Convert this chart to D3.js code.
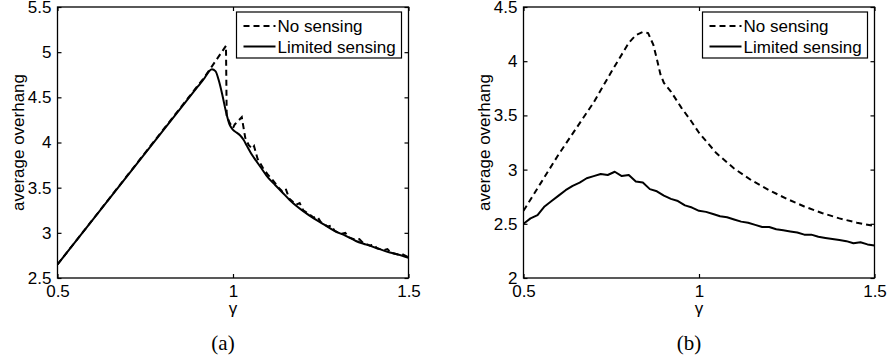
<!DOCTYPE html>
<html>
<head>
<meta charset="utf-8">
<script src="https://cdn.jsdelivr.net/npm/d3@7"></script>
<style>
  html, body { margin: 0; padding: 0; background: #fff; }
  svg { display: block; }
  text { font-family: "Liberation Sans", Arial, sans-serif; fill: #000; }
</style>
</head>
<body>
<svg id="chart" width="889" height="362"></svg>
<script>
// ---------- data ----------
const seriesNames = ["No sensing", "Limited sensing"];

// panel (a)
const aNoSensingX = [0.50, 0.92, 0.98, 0.982, 0.99, 1.00, 1.005, 1.025, 1.035, 1.045, 1.055, 1.06, 1.07, 1.085, 1.10, 1.11, 1.12, 1.13, 1.14, 1.15, 1.16, 1.18, 1.19, 1.20, 1.23, 1.24, 1.25, 1.27, 1.28, 1.29, 1.31, 1.32, 1.33, 1.35, 1.36, 1.37, 1.39, 1.40, 1.41, 1.43, 1.44, 1.45, 1.47, 1.48, 1.50];
const aNoSensingY = [2.65, 4.73, 5.07, 4.30, 4.22, 4.16, 4.20, 4.28, 4.05, 3.97, 3.93, 3.96, 3.82, 3.72, 3.64, 3.60, 3.55, 3.50, 3.46, 3.49, 3.38, 3.31, 3.33, 3.25, 3.17, 3.18, 3.12, 3.07, 3.08, 3.02, 2.99, 3.00, 2.95, 2.92, 2.93, 2.89, 2.86, 2.87, 2.83, 2.81, 2.82, 2.78, 2.76, 2.77, 2.73];
const aLimitedX = [0.50, 0.90, 0.92, 0.93, 0.94, 0.95, 0.96, 0.97, 0.98, 0.99, 1.00, 1.01, 1.02, 1.03, 1.04, 1.05, 1.06, 1.08, 1.10, 1.12, 1.14, 1.16, 1.18, 1.20, 1.23, 1.26, 1.29, 1.32, 1.35, 1.38, 1.41, 1.44, 1.47, 1.50];
const aLimitedY = [2.65, 4.62, 4.72, 4.78, 4.81, 4.79, 4.68, 4.52, 4.34, 4.20, 4.14, 4.11, 4.08, 4.03, 3.96, 3.89, 3.83, 3.72, 3.61, 3.53, 3.45, 3.37, 3.30, 3.24, 3.16, 3.09, 3.02, 2.97, 2.91, 2.87, 2.83, 2.79, 2.76, 2.725];

// panel (b)
const bNoSensingX = [0.50, 0.55, 0.60, 0.65, 0.70, 0.75, 0.80, 0.82, 0.84, 0.855, 0.87, 0.88, 0.89, 0.90, 0.92, 0.95, 0.975, 1.00, 1.05, 1.10, 1.15, 1.20, 1.25, 1.30, 1.35, 1.40, 1.45, 1.50];
const bNoSensingY = [2.62, 2.88, 3.14, 3.38, 3.62, 3.90, 4.17, 4.24, 4.27, 4.26, 4.15, 4.02, 3.88, 3.80, 3.72, 3.57, 3.46, 3.34, 3.15, 3.01, 2.90, 2.81, 2.73, 2.66, 2.60, 2.55, 2.51, 2.48];
const bLimitedX = [0.50, 0.52, 0.54, 0.56, 0.58, 0.60, 0.62, 0.64, 0.66, 0.68, 0.70, 0.72, 0.74, 0.76, 0.78, 0.80, 0.82, 0.84, 0.86, 0.88, 0.90, 0.92, 0.94, 0.96, 0.98, 1.00, 1.02, 1.04, 1.06, 1.08, 1.10, 1.12, 1.14, 1.16, 1.18, 1.20, 1.22, 1.24, 1.26, 1.28, 1.30, 1.32, 1.34, 1.36, 1.38, 1.40, 1.42, 1.44, 1.46, 1.48, 1.50];
const bLimitedY = [2.50, 2.55, 2.58, 2.66, 2.71, 2.76, 2.81, 2.85, 2.88, 2.92, 2.94, 2.96, 2.95, 2.98, 2.94, 2.95, 2.89, 2.88, 2.82, 2.80, 2.76, 2.73, 2.71, 2.67, 2.65, 2.62, 2.61, 2.59, 2.57, 2.56, 2.54, 2.52, 2.51, 2.49, 2.47, 2.47, 2.45, 2.44, 2.43, 2.42, 2.40, 2.40, 2.38, 2.37, 2.36, 2.35, 2.34, 2.32, 2.33, 2.31, 2.30];

const xTicks = [0.5, 1, 1.5];
const aYTicks = [2.5, 3, 3.5, 4, 4.5, 5, 5.5];
const bYTicks = [2, 2.5, 3, 3.5, 4, 4.5];
const panelLabels = ["(a)", "(b)"];
const xLabel = "\u03b3";
const yLabel = "average overhang";

// ---------- drawing ----------
const svg = d3.select("#chart");
const FONT = 17;

function zip(xs, ys) { return xs.map((x, i) => ({ x: x, y: ys[i] })); }

const panels = [
  { left: 57.5, right: 408.5, top: 7, bottom: 278, yDomain: [2.5, 5.5], yTicks: aYTicks,
    series: [zip(aNoSensingX, aNoSensingY), zip(aLimitedX, aLimitedY)], label: panelLabels[0], smoothSolid: true },
  { left: 523.5, right: 874.5, top: 7, bottom: 278, yDomain: [2, 4.5], yTicks: bYTicks,
    series: [zip(bNoSensingX, bNoSensingY), zip(bLimitedX, bLimitedY)], label: panelLabels[1], smoothSolid: false }
];

panels.forEach((p, pi) => {
  const x = d3.scaleLinear().domain([0.5, 1.5]).range([p.left, p.right]);
  const y = d3.scaleLinear().domain(p.yDomain).range([p.bottom, p.top]);
  const g = svg.append("g");
  const clipId = "clip" + pi;
  g.append("clipPath").attr("id", clipId).append("rect")
    .attr("x", p.left).attr("y", p.top).attr("width", p.right - p.left).attr("height", p.bottom - p.top);

  // lines
  const dashLine = d3.line().x(d => x(d.x)).y(d => y(d.y)).curve(d3.curveLinear);
  const solidLine = d3.line().x(d => x(d.x)).y(d => y(d.y)).curve(p.smoothSolid ? d3.curveMonotoneX : d3.curveLinear);
  g.append("path").attr("clip-path", `url(#${clipId})`)
    .attr("d", dashLine(p.series[0])).attr("fill", "none").attr("stroke", "#000")
    .attr("stroke-width", 2).attr("stroke-dasharray", "6,4");
  g.append("path").attr("clip-path", `url(#${clipId})`)
    .attr("d", solidLine(p.series[1])).attr("fill", "none").attr("stroke", "#000")
    .attr("stroke-width", 2).attr("stroke-linejoin", "round");

  // axes (ticks inward, mirrored)
  const axB = d3.axisBottom(x).tickValues(xTicks).tickSize(-4).tickPadding(7).tickFormat(d3.format("~g"));
  const axT = d3.axisTop(x).tickValues(xTicks).tickSize(-4).tickFormat("");
  const axL = d3.axisLeft(y).tickValues(p.yTicks).tickSize(-4).tickPadding(6).tickFormat(d3.format("~g"));
  const axR = d3.axisRight(y).tickValues(p.yTicks).tickSize(-4).tickFormat("");
  [[axB, `translate(0,${p.bottom})`], [axT, `translate(0,${p.top})`],
   [axL, `translate(${p.left},0)`], [axR, `translate(${p.right},0)`]].forEach(([ax, tr]) => {
    const a = g.append("g").attr("transform", tr).call(ax);
    a.select(".domain").remove();
    a.selectAll("line").attr("stroke", "#000").attr("stroke-width", 1.2);
    a.selectAll("text").attr("font-size", FONT).attr("font-family", '"Liberation Sans", Arial, sans-serif').attr("fill", "#000");
  });
  g.append("rect").attr("x", p.left).attr("y", p.top)
    .attr("width", p.right - p.left).attr("height", p.bottom - p.top)
    .attr("fill", "none").attr("stroke", "#000").attr("stroke-width", 1.3);

  // axis labels
  const cx = (p.left + p.right) / 2;
  g.append("text").attr("x", cx).attr("y", 314).attr("text-anchor", "middle")
    .attr("font-size", FONT).text(xLabel);
  g.append("text").attr("transform", `translate(${p.left - 34},${(p.top + p.bottom) / 2}) rotate(-90)`)
    .attr("text-anchor", "middle").attr("font-size", FONT).text(yLabel);
  g.append("text").attr("x", cx - 10).attr("y", 350).attr("text-anchor", "middle")
    .attr("font-size", 21).style("font-family", '"Liberation Serif", "Times New Roman", serif').text(p.label);

  // legend
  const lx = p.right - 172, ly = 12, lw = 165, lh = 46;
  const lg = g.append("g");
  lg.append("rect").attr("x", lx).attr("y", ly).attr("width", lw).attr("height", lh)
    .attr("fill", "#fff").attr("stroke", "#000").attr("stroke-width", 1.2);
  seriesNames.forEach((name, i) => {
    const yy = ly + 14 + i * 20.5;
    lg.append("line").attr("x1", lx + 7).attr("x2", lx + 39).attr("y1", yy).attr("y2", yy)
      .attr("stroke", "#000").attr("stroke-width", 2)
      .attr("stroke-dasharray", i === 0 ? "6,4" : null);
    lg.append("text").attr("x", lx + 41).attr("y", yy + 6).attr("font-size", FONT).text(name);
  });
});
</script>
</body>
</html>
